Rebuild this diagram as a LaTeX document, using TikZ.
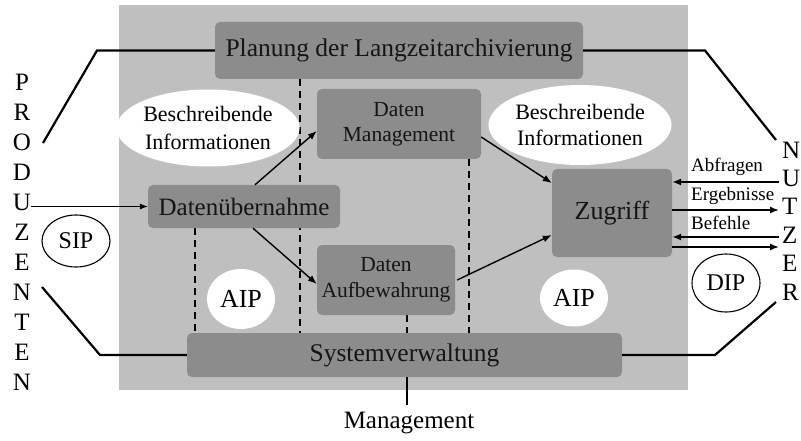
\documentclass[tikz,border=0pt]{standalone}
\usepackage{fontspec}
\setmainfont{Liberation Serif}
\usetikzlibrary{shapes.geometric,arrows.meta,backgrounds}
\definecolor{panelgray}{HTML}{BFBFBF}
\definecolor{boxgray}{HTML}{8C8C8C}
\definecolor{inktext}{HTML}{151515}
\begin{document}
\begin{tikzpicture}[x=1pt,y=-1pt,
  box/.style={fill=boxgray, rounded corners=5pt, inner sep=0pt, align=center, text=inktext},
  bubble/.style={ellipse, fill=white, inner sep=0pt, align=center},
  letter/.style={inner sep=0pt, font=\fontsize{25}{30}\selectfont},
  lab/.style={inner sep=0pt, anchor=west, font=\fontsize{19}{22}\selectfont},
  link/.style={line width=2.2pt},
  arr/.style={-{Latex[length=9pt,width=7pt]}, line width=1.4pt},
  thinarr/.style={-{Latex[length=8pt,width=6pt]}, line width=0.9pt},
  dashline/.style={line width=2pt, dash pattern=on 7pt off 5pt}]
\useasboundingbox (0,0) rectangle (801,441);

% functional blocks
\node[box, minimum width=368pt, minimum height=57pt, font=\fontsize{25.5}{30}\selectfont] (plan) at (399,50.5) {Planung der Langzeitarchivierung};
\node[box, minimum width=192pt, minimum height=43pt, font=\fontsize{25}{30}\selectfont] (dueb) at (244,206.5) {Datenübernahme};
\node[box, minimum width=164pt, minimum height=70pt, font=\fontsize{21.5}{25}\selectfont] (dman) at (399,124) {Daten\\Management};
\node[box, minimum width=138pt, minimum height=70pt, font=\fontsize{21.5}{26}\selectfont] (daufb) at (386,280) {Daten\\Aufbewahrung};
\node[box, minimum width=435pt, minimum height=44pt, font=\fontsize{25.5}{30}\selectfont] (sysv) at (404.5,355) {Systemverwaltung};
\node[box, minimum width=120pt, minimum height=88pt, font=\fontsize{26}{30}\selectfont] (zug) at (612,213) {Zugriff};

% information bubbles
\node[bubble, minimum width=150pt, minimum height=77pt, font=\fontsize{22}{28}\selectfont] (bi1) at (208,128) {Beschreibende\\Informationen};
\node[bubble, minimum width=147pt, minimum height=80pt, font=\fontsize{22}{26}\selectfont] (bi2) at (580,125) {Beschreibende\\Informationen};
\node[bubble, minimum width=68pt, minimum height=60pt, font=\fontsize{26}{30}\selectfont] (aip1) at (241,299) {AIP};
\node[bubble, minimum width=68pt, minimum height=57pt, font=\fontsize{26}{30}\selectfont] (aip2) at (574,298) {AIP};
\node[bubble, draw, line width=1.1pt, minimum width=68pt, minimum height=52pt, font=\fontsize{24}{30}\selectfont] (sip) at (76,241) {SIP};
\node[bubble, draw, line width=1.1pt, minimum width=68pt, minimum height=58pt, font=\fontsize{24}{30}\selectfont] (dip) at (726,283) {DIP};

% vertical words
\foreach \l [count=\i from 0] in {P,R,O,D,U,Z,E,N,T,E,N}
  \node[letter] (p\i) at (22,82+30*\i) {\l};
\foreach \l [count=\i from 0] in {N,U,T,Z,E,R}
  \node[letter, anchor=west] (n\i) at (782,150+28.4*\i) {\l};

% panel and dashed separators
\begin{scope}[on background layer]
  \fill[panelgray] (119,5) rectangle (688,390);
  \coordinate (d1) at ([xshift=-99pt]plan.south);
  \coordinate (d2) at ([xshift=-49pt]dueb.south);
  \coordinate (d3) at ([xshift=70pt]dman.south);
  \coordinate (d4) at ([xshift=21pt]daufb.south);
  \draw[dashline] (d1) -- (d1 |- sysv.north);
  \draw[dashline] (d2) -- (d2 |- sysv.north);
  \draw[dashline] (d3) -- (d3 |- sysv.north);
  \draw[dashline] (d4) -- (d4 |- sysv.north);
\end{scope}

% links to producers and users
\coordinate (plA) at (97,50.5);  \coordinate (plB) at (43,143);
\coordinate (prA) at (705,50.5); \coordinate (prB) at (776,140);
\coordinate (slA) at (100,355);  \coordinate (slB) at (42,287);
\coordinate (srA) at (715,355);  \coordinate (srB) at (776,302);
\draw[link] (plan.west) -- (plA) -- (plB);
\draw[link] (plan.east) -- (prA) -- (prB);
\draw[link] (sysv.west) -- (slA) -- (slB);
\draw[link] (sysv.east) -- (srA) -- (srB);

% management
\node[inner sep=0pt, font=\fontsize{25}{30}\selectfont] (mgmt) at (409,423) {Management};
\coordinate (mline) at (407,405);
\draw[link] (mline) -- (mline |- sysv.south);

% ingest flow
\draw[thinarr] (p4.east |- dueb.west) -- (dueb.west);
\draw[arr] ([xshift=11pt]dueb.north) -- ([yshift=-7pt]dman.west);
\draw[arr] ([xshift=9pt]dueb.south) -- ([yshift=-4pt]daufb.west);
\draw[arr] ([yshift=-13pt]dman.east) -- ([yshift=30pt]zug.west);
\draw[arr] ([xshift=2pt]daufb.east) -- ([yshift=-22pt]zug.west);

% access requests and results
\coordinate (qA) at (779,182);
\coordinate (qB) at (779,210);
\coordinate (qC) at (779,237);
\coordinate (qD) at (779,247);
\draw[arr] (qA) -- ([yshift=31pt]zug.east);
\draw[arr] ([yshift=3pt]zug.east) -- (qB);
\draw[arr] (qC) -- ([yshift=-24pt]zug.east);
\draw[arr] ([yshift=-34pt]zug.east) -- (qD);
\node[lab] (labA) at (691,167) {Abfragen};
\node[lab] (labB) at (691,196) {Ergebnisse};
\node[lab] (labC) at (691,223) {Befehle};
\end{tikzpicture}
\end{document}
